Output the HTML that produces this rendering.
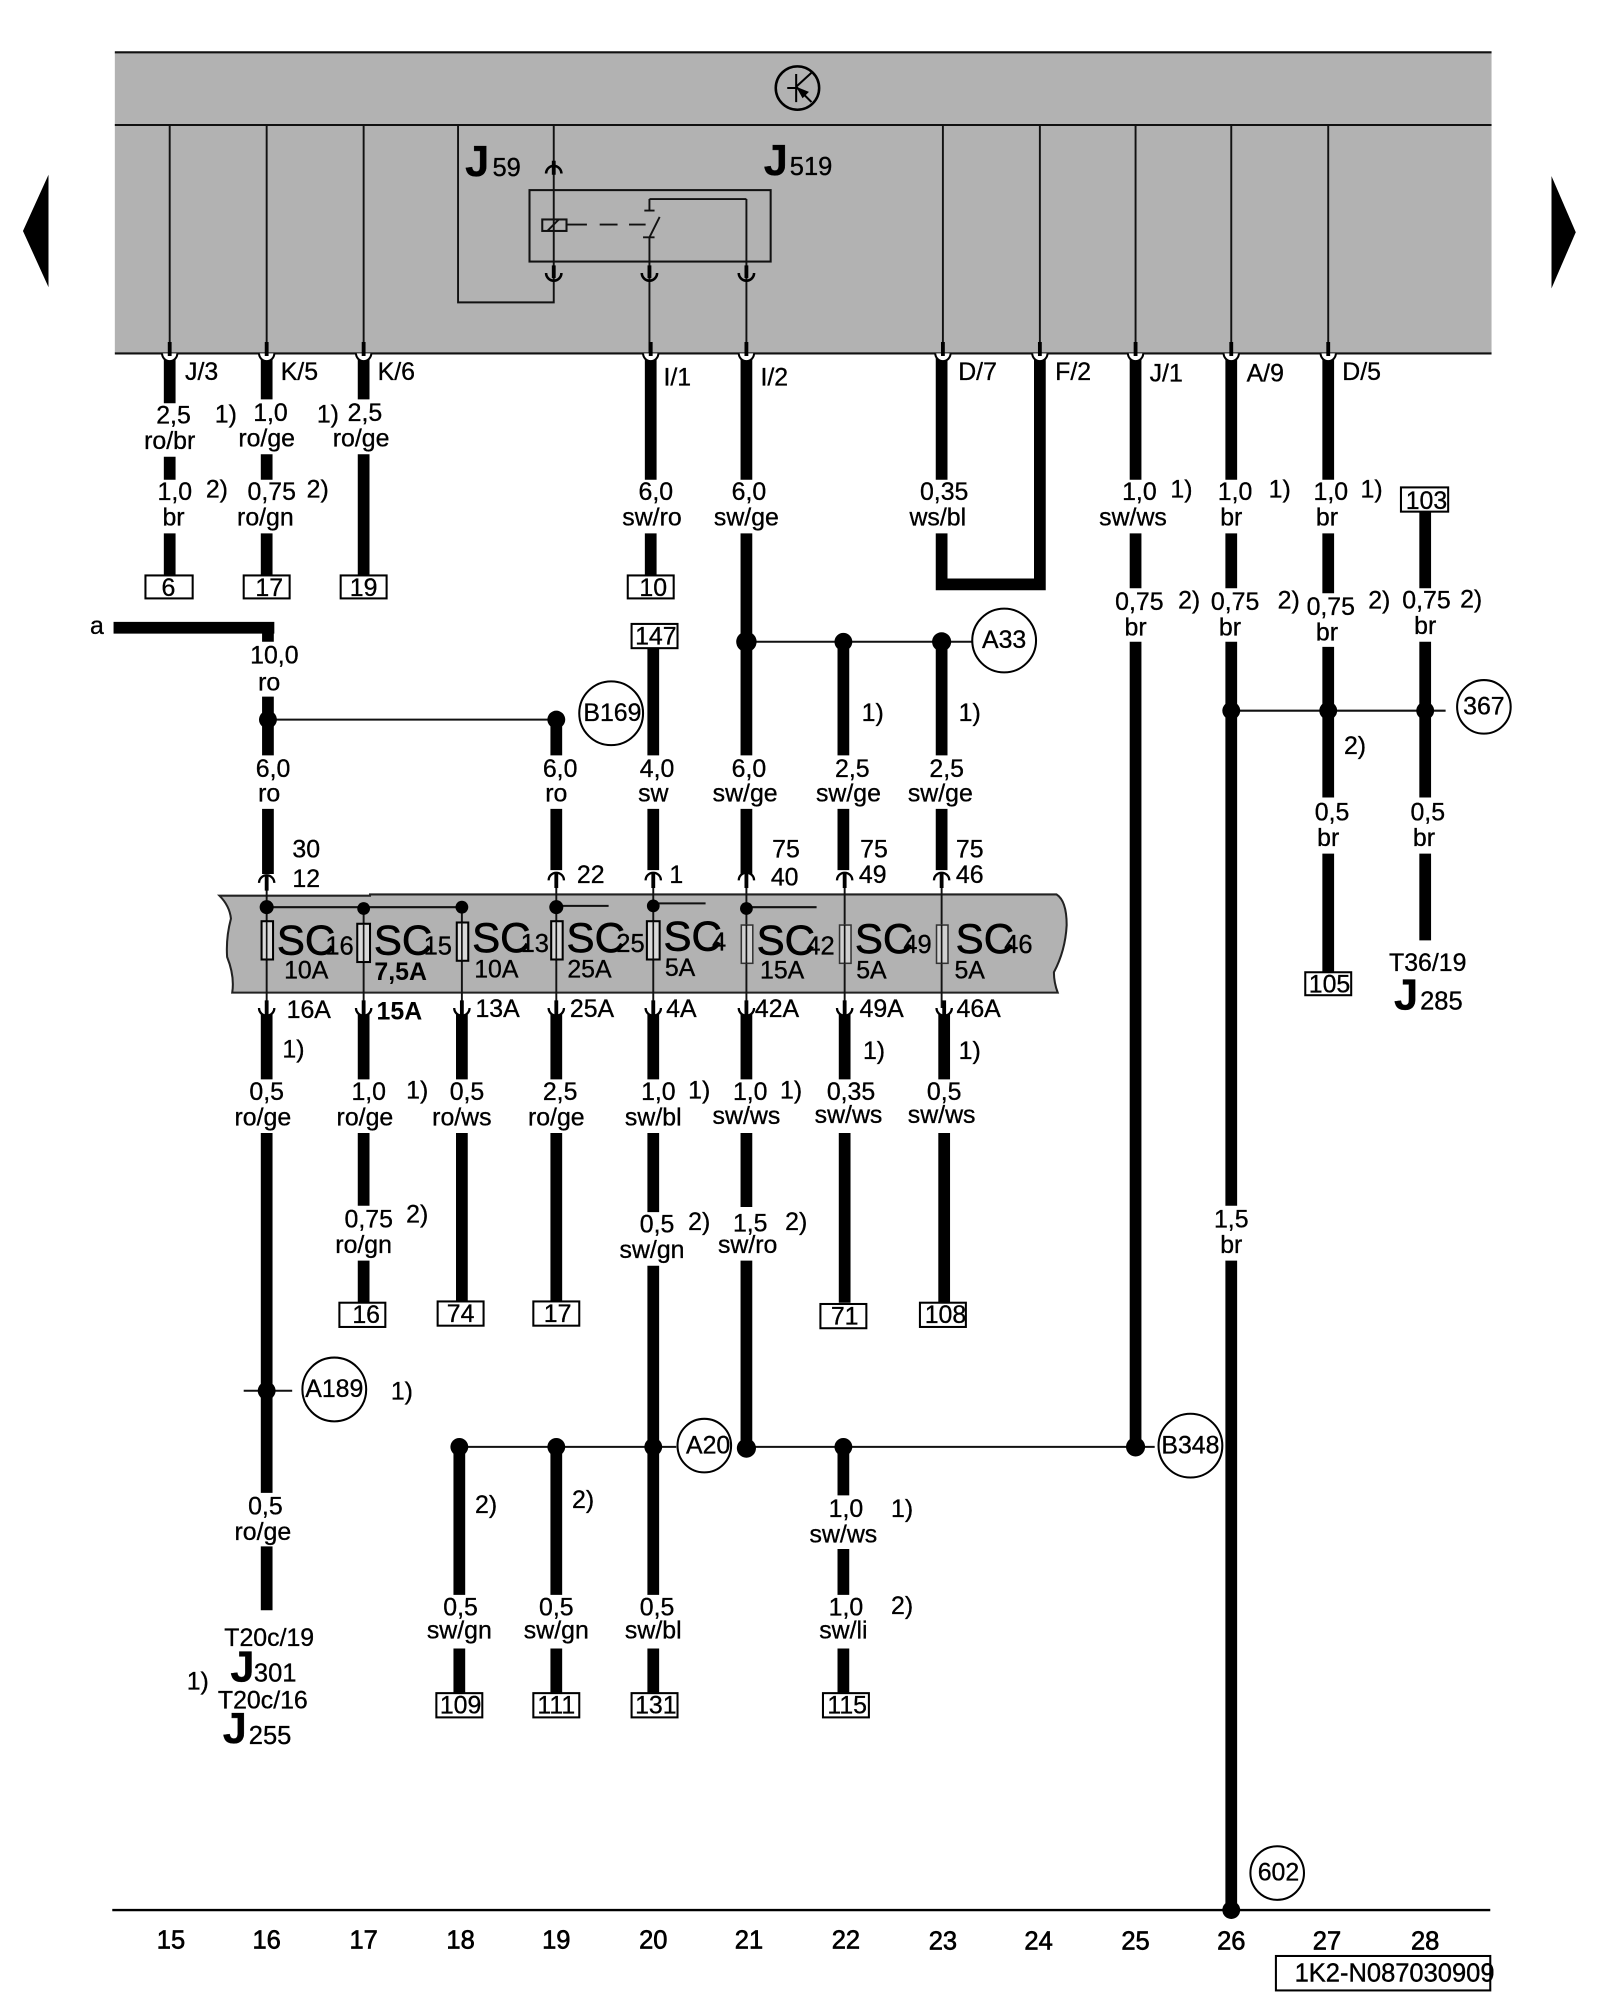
<!DOCTYPE html>
<html><head><meta charset="utf-8"><title>Diagram</title>
<style>
html,body{margin:0;padding:0;background:#fff;width:1600px;height:2000px;overflow:hidden}
svg{display:block}
text{font-family:"Liberation Sans",sans-serif;font-size:19.5px;fill:#000;text-anchor:middle;stroke:#000;stroke-width:.25}
.s{text-anchor:start}
.J{font-size:34px;font-weight:bold}
.n{font-size:20px;text-anchor:start}
.SC{font-size:33px;text-anchor:start;stroke-width:.5}
.sub{font-size:20px;text-anchor:start}
.bn{font-weight:bold;font-size:19.5px;stroke-width:0}
.num{font-size:20px;stroke-width:.5}
</style></head><body>
<svg width="1600" height="2000" viewBox="0 0 1254 1567.5" xmlns="http://www.w3.org/2000/svg">
<rect width="1254" height="1567.5" fill="#fff"/>
<!-- top band -->
<rect x="90" y="41" width="1079" height="236" fill="#b2b2b2"/>
<path d="M90 41H1169M90 98H1169M90 277H1169" stroke="#111" stroke-width="1.6" fill="none"/>
<!-- side arrows -->
<polygon points="38,137 18,181 38,225" fill="#000"/>
<polygon points="1216,138 1235,182 1216,226" fill="#000"/>
<!-- transistor symbol -->
<circle cx="625" cy="69" r="17" fill="none" stroke="#000" stroke-width="2"/>
<path d="M617 69H624M624 58V80M624 68L636 57M624 68L636 80" stroke="#000" stroke-width="1.6" fill="none"/>
<polygon points="624,68 634,72 629,77" fill="#000"/>
<!-- thin verticals in band -->
<path d="M133 98V277M209 98V277M285 98V277M739 98V277M815 98V277M890 98V277M965 98V277M1041 98V277M434 98V237H359V98M509 205V277M585 156V277M509 156H585M509 156V165" stroke="#111" stroke-width="1.5" fill="none"/>
<rect x="415" y="149" width="189" height="56" fill="none" stroke="#111" stroke-width="1.6"/>
<rect x="425" y="172" width="19" height="9" fill="none" stroke="#111" stroke-width="1.6"/>
<path d="M429 181L438 172M444 176H460M470 176H484M493 176H506" stroke="#111" stroke-width="1.5" fill="none"/>
<path d="M505 165H513M517 170L509 186M504 186H513M509 186V205" stroke="#111" stroke-width="1.5" fill="none"/>
<!-- connector arcs -->
<path d="M428 136A6 6 0 0 1 440 136M428 214A6 6 0 0 0 440 214M503 214A6 6 0 0 0 515 214M579 214A6 6 0 0 0 591 214" stroke="#000" stroke-width="2" fill="none"/>
<path d="M434 126V137M434 208V218M509 208V218M585 208V218" stroke="#000" stroke-width="3"/>
<!-- fuse band -->
<path d="M172 702H290V701H828Q836 706 836 725Q835 745 826 762Q826 770 829 778H182Q184 765 178 750Q177 735 181 720Q180 710 172 702Z" fill="#b2b2b2" stroke="#222" stroke-width="1.6"/>
<!-- thick wires -->
<path fill="none" stroke="#000" stroke-width="9.2" d="
M133 279V316M133 358V376M133 418V451
M209 279V313M209 356V376M209 418V451
M285 279V313M285 356V451
M510 279V376M510 418V451
M585 279V376M585 418V592M585 634V685
M738 279V376M738 418V458H815V279
M890 279V376M890 418V461M890 503V1134
M965 279V376M965 418V461M965 503V945M965 988V1497
M1041 279V376M1041 418V465M1041 507V625M1041 669V762
M1117 401V461M1117 503V625M1117 669V737
M210 503V492M89 492H215
M210 546V592M210 634V685
M436 564V592M436 634V682
M512 508V592M512 634V682
M661 503V592M661 634V682
M738 503V592M738 634V682
M209 795V846M209 888V1170M209 1212V1262
M285 795V846M285 888V945M285 988V1021
M362 795V846M362 888V1021
M436 795V846M436 888V1021
M512 795V846M512 888V950M512 992V1250M512 1292V1327
M585 795V846M585 888V946M585 988V1134
M662 795V846M662 888V1021
M740 795V846M740 888V1021
M360 1134V1250M360 1292V1327
M436 1134V1250M436 1292V1327
M661 1134V1172M661 1214V1250M661 1292V1327"/>
<!-- connector U shapes at band bottom -->
<g fill="#fff" stroke="#000" stroke-width="1.6">
<path d="M127 277A6 6 0 0 0 139 277"/><path d="M203 277A6 6 0 0 0 215 277"/><path d="M279 277A6 6 0 0 0 291 277"/>
<path d="M504 277A6 6 0 0 0 516 277"/><path d="M579 277A6 6 0 0 0 591 277"/><path d="M733 277A6 6 0 0 0 745 277"/>
<path d="M809 277A6 6 0 0 0 821 277"/><path d="M884 277A6 6 0 0 0 896 277"/><path d="M959 277A6 6 0 0 0 971 277"/><path d="M1035 277A6 6 0 0 0 1047 277"/>
</g>
<path d="M133 268V279M209 268V279M285 268V279M510 268V279M585 268V279M739 268V279M815 268V279M890 268V279M965 268V279M1041 268V279" stroke="#000" stroke-width="3"/>
<!-- fuse lines -->
<path d="M209 686V795M285 711V795M362 711V795M436 686V795M512 686V795M585 686V795M662 686V795M738 686V795" stroke="#111" stroke-width="1.5" fill="none"/>
<path d="M209 711H362M436 710H477M512 708H553M585 711H640" stroke="#111" stroke-width="1.6" fill="none"/>
<!-- arcs on top of fuse band and below -->
<g fill="#fff" stroke="#000" stroke-width="1.8">
<path d="M203 692A6 6 0 0 1 215 692"/><path d="M430 690A6 6 0 0 1 442 690"/><path d="M506 690A6 6 0 0 1 518 690"/><path d="M579 690A6 6 0 0 1 591 690"/><path d="M656 690A6 6 0 0 1 668 690"/><path d="M732 690A6 6 0 0 1 744 690"/>
<path d="M203 790A6 6 0 0 0 215 790"/><path d="M279 790A6 6 0 0 0 291 790"/><path d="M356 790A6 6 0 0 0 368 790"/><path d="M430 790A6 6 0 0 0 442 790"/><path d="M506 790A6 6 0 0 0 518 790"/><path d="M579 790A6 6 0 0 0 591 790"/><path d="M656 790A6 6 0 0 0 668 790"/><path d="M734 790A6 6 0 0 0 746 790"/>
</g>
<path d="M209 686V698M436 684V696M512 684V696M585 684V696M662 684V696M738 684V696M209 784V796M285 784V796M362 784V796M436 784V796M512 784V796M585 784V796M662 784V796M740 784V796" stroke="#000" stroke-width="3"/>
<!-- fuses -->
<g fill="#d8d8d8" stroke="#000" stroke-width="1.6">
<rect x="205" y="722" width="9" height="30"/><rect x="280" y="724" width="10" height="30"/><rect x="358" y="723" width="9" height="30"/><rect x="432" y="722" width="9" height="30"/><rect x="507" y="722" width="10" height="30"/>
</g>
<g fill="#d0d0d0" stroke="#333" stroke-width="1.2">
<rect x="581" y="725" width="9" height="30"/><rect x="658" y="725" width="9" height="30"/><rect x="734" y="725" width="9" height="30"/>
</g>
<path d="M209 722V752M285 724V754M362 723V753M436 722V752M512 722V752M585 725V755M662 725V755M738 725V755" stroke="#111" stroke-width="1.3"/>
<!-- thin junction lines -->
<path d="M210 564H436M585 503H762M965 557H1133M191 1090H229M360 1134H530M585 1134H905" stroke="#111" stroke-width="1.6" fill="none"/>
<path d="M88 1497H1168" stroke="#000" stroke-width="1.8"/>
<!-- dots -->
<g fill="#000">
<circle cx="210" cy="564" r="7"/><circle cx="436" cy="564" r="7"/>
<circle cx="585" cy="503" r="8"/><circle cx="661" cy="503" r="7"/><circle cx="738" cy="503" r="7.5"/>
<circle cx="965" cy="557" r="7"/><circle cx="1041" cy="557" r="7"/><circle cx="1117" cy="557" r="7"/>
<circle cx="209" cy="711" r="5.5"/><circle cx="285" cy="712" r="5"/><circle cx="362" cy="711" r="5"/><circle cx="436" cy="711" r="5.5"/><circle cx="512" cy="710" r="5"/><circle cx="585" cy="712" r="5"/>
<circle cx="209" cy="1090" r="7"/><circle cx="360" cy="1134" r="7"/><circle cx="436" cy="1134" r="7"/><circle cx="512" cy="1134" r="7"/>
<circle cx="585" cy="1135" r="7.5"/><circle cx="661" cy="1134" r="7"/><circle cx="890" cy="1134" r="7.5"/><circle cx="965" cy="1497" r="7"/>
</g>
<!-- circles -->
<g fill="#fff" stroke="#000" stroke-width="1.6">
<ellipse cx="479" cy="559" rx="25" ry="25"/><ellipse cx="787" cy="502" rx="25" ry="25"/><ellipse cx="1163" cy="554" rx="21" ry="21"/>
<ellipse cx="262" cy="1089" rx="25" ry="25"/><ellipse cx="552" cy="1133" rx="21" ry="21"/><ellipse cx="933" cy="1133" rx="25" ry="25"/><ellipse cx="1001" cy="1468" rx="21" ry="21"/>
</g>
<!-- boxes -->
<g fill="#fff" stroke="#000" stroke-width="1.6">
<rect x="114" y="451" width="37" height="18"/><rect x="191" y="451" width="36" height="18"/><rect x="267" y="451" width="36" height="18"/><rect x="492" y="451" width="36" height="18"/>
<rect x="495" y="489" width="36" height="19"/><rect x="1098" y="382" width="37" height="19"/><rect x="1023" y="762" width="36" height="18"/>
<rect x="266" y="1021" width="36" height="19"/><rect x="343" y="1020" width="36" height="19"/><rect x="418" y="1020" width="36" height="19"/><rect x="643" y="1022" width="36" height="19"/><rect x="721" y="1021" width="36" height="19"/>
<rect x="342" y="1327" width="36" height="19"/><rect x="418" y="1327" width="36" height="19"/><rect x="495" y="1327" width="36" height="19"/><rect x="645" y="1327" width="36" height="19"/>
<rect x="1000" y="1533" width="168" height="27"/>
</g>
<!-- box labels -->
<text x="132" y="467">6</text><text x="211" y="467">17</text><text x="285" y="467">19</text><text x="512" y="467">10</text><text x="514" y="505">147</text><text x="1118" y="399">103</text><text x="1042" y="778">105</text>
<text x="287" y="1037">16</text><text x="361" y="1036">74</text><text x="437" y="1036">17</text><text x="662" y="1038">71</text><text x="741" y="1037">108</text>
<text x="361" y="1343">109</text><text x="436" y="1343">111</text><text x="514" y="1343">131</text><text x="664" y="1343">115</text>
<text x="1093" y="1553" style="font-size:20px;stroke-width:.3">1K2-N087030909</text>
<!-- circle labels -->
<text x="480" y="565">B169</text><text x="787" y="508">A33</text><text x="1163" y="560">367</text><text x="262" y="1095">A189</text><text x="555" y="1139">A20</text><text x="933" y="1139">B348</text><text x="1002" y="1474">602</text>
<text x="76" y="497">a</text>
<!-- J labels -->
<text x="374" y="138" class="J">J</text><text x="386" y="138" class="n">59</text>
<text x="608" y="137" class="J">J</text><text x="619" y="137" class="n">519</text>
<text x="1102" y="791" class="J">J</text><text x="1113" y="791" class="n">285</text>
<text x="190" y="1318" class="J">J</text><text x="199" y="1318" class="n">301</text>
<text x="184" y="1366" class="J">J</text><text x="195" y="1367" class="n">255</text>
<!-- pin labels -->
<g>
<text class="s" x="145" y="298">J/3</text><text class="s" x="220" y="298">K/5</text><text class="s" x="296" y="298">K/6</text><text class="s" x="520" y="302">I/1</text><text class="s" x="596" y="302">I/2</text>
<text class="s" x="751" y="298">D/7</text><text class="s" x="827" y="298">F/2</text><text class="s" x="901" y="299">J/1</text><text class="s" x="977" y="299">A/9</text><text class="s" x="1052" y="298">D/5</text>
</g>
<!-- wire labels -->
<text x="136" y="332">2,5</text><text x="133" y="352">ro/br</text><text x="177" y="331">1)</text>
<text x="212" y="330">1,0</text><text x="209" y="350">ro/ge</text><text x="257" y="331">1)</text>
<text x="286" y="330">2,5</text><text x="283" y="350">ro/ge</text>
<text x="137" y="392">1,0</text><text x="136" y="412">br</text><text x="170" y="390">2)</text>
<text x="213" y="392">0,75</text><text x="208" y="412">ro/gn</text><text x="249" y="390">2)</text>
<text x="514" y="392">6,0</text><text x="511" y="412">sw/ro</text><text x="587" y="392">6,0</text><text x="585" y="412">sw/ge</text>
<text x="740" y="392">0,35</text><text x="735" y="412">ws/bl</text>
<text x="893" y="392">1,0</text><text x="888" y="412">sw/ws</text><text x="926" y="390">1)</text>
<text x="968" y="392">1,0</text><text x="965" y="412">br</text><text x="1003" y="390">1)</text>
<text x="1043" y="392">1,0</text><text x="1040" y="412">br</text><text x="1075" y="390">1)</text>
<text x="893" y="478">0,75</text><text x="890" y="498">br</text><text x="932" y="477">2)</text>
<text x="968" y="478">0,75</text><text x="964" y="498">br</text><text x="1010" y="477">2)</text>
<text x="1043" y="482">0,75</text><text x="1040" y="502">br</text><text x="1081" y="477">2)</text>
<text x="1118" y="477">0,75</text><text x="1117" y="497">br</text><text x="1153" y="476">2)</text>
<text x="215" y="520">10,0</text><text x="211" y="541">ro</text>
<text x="214" y="609">6,0</text><text x="211" y="628">ro</text><text x="439" y="609">6,0</text><text x="436" y="628">ro</text>
<text x="515" y="609">4,0</text><text x="512" y="628">sw</text><text x="587" y="609">6,0</text><text x="584" y="628">sw/ge</text>
<text x="668" y="609">2,5</text><text x="665" y="628">sw/ge</text><text x="742" y="609">2,5</text><text x="737" y="628">sw/ge</text>
<text x="684" y="565">1)</text><text x="760" y="565">1)</text><text x="1062" y="591">2)</text>
<text x="1044" y="643">0,5</text><text x="1041" y="663">br</text><text x="1119" y="643">0,5</text><text x="1116" y="663">br</text>
<text x="1119" y="761">T36/19</text>
<text x="240" y="672">30</text><text x="240" y="695">12</text><text x="463" y="692">22</text><text x="530" y="692">1</text>
<text x="616" y="672">75</text><text x="615" y="694">40</text><text x="685" y="672">75</text><text x="684" y="692">49</text><text x="760" y="672">75</text><text x="760" y="692">46</text>
<!-- SC -->
<text class="SC" x="217" y="748">SC</text><text class="sub" x="255" y="748">16</text>
<text class="SC" x="293" y="748">SC</text><text class="sub" x="332" y="748">15</text>
<text class="SC" x="370" y="746">SC</text><text class="sub" x="408" y="746">13</text>
<text class="SC" x="444" y="746">SC</text><text class="sub" x="483" y="746">25</text>
<text class="SC" x="520" y="745">SC</text><text class="sub" x="558" y="745">4</text>
<text class="SC" x="593" y="748">SC</text><text class="sub" x="632" y="748">42</text>
<text class="SC" x="670" y="747">SC</text><text class="sub" x="708" y="747">49</text>
<text class="SC" x="749" y="747">SC</text><text class="sub" x="787" y="747">46</text>
<text x="240" y="767">10A</text><text x="314" y="768" class="bn">7,5A</text><text x="389" y="766">10A</text><text x="462" y="766">25A</text><text x="533" y="765">5A</text><text x="613" y="767">15A</text><text x="683" y="767">5A</text><text x="760" y="767">5A</text>
<text x="242" y="798">16A</text><text x="313" y="799" class="bn">15A</text><text x="390" y="797">13A</text><text x="464" y="797">25A</text><text x="534" y="797">4A</text><text x="609" y="797">42A</text><text x="691" y="797">49A</text><text x="767" y="797">46A</text>
<text x="230" y="829">1)</text><text x="685" y="830">1)</text><text x="760" y="830">1)</text>
<text x="209" y="862">0,5</text><text x="206" y="882">ro/ge</text>
<text x="289" y="862">1,0</text><text x="286" y="882">ro/ge</text><text x="327" y="861">1)</text>
<text x="366" y="862">0,5</text><text x="362" y="882">ro/ws</text>
<text x="439" y="862">2,5</text><text x="436" y="882">ro/ge</text>
<text x="516" y="862">1,0</text><text x="512" y="882">sw/bl</text><text x="548" y="861">1)</text>
<text x="588" y="862">1,0</text><text x="585" y="881">sw/ws</text><text x="620" y="861">1)</text>
<text x="667" y="862">0,35</text><text x="665" y="880">sw/ws</text>
<text x="740" y="862">0,5</text><text x="738" y="880">sw/ws</text>
<text x="289" y="962">0,75</text><text x="285" y="982">ro/gn</text><text x="327" y="958">2)</text>
<text x="515" y="966">0,5</text><text x="511" y="986">sw/gn</text><text x="548" y="964">2)</text>
<text x="588" y="965">1,5</text><text x="586" y="982">sw/ro</text><text x="624" y="964">2)</text>
<text x="965" y="962">1,5</text><text x="965" y="982">br</text>
<text x="315" y="1097">1)</text>
<text x="208" y="1187">0,5</text><text x="206" y="1207">ro/ge</text>
<text x="381" y="1186">2)</text><text x="457" y="1182">2)</text>
<text x="663" y="1189">1,0</text><text x="661" y="1209">sw/ws</text><text x="707" y="1189">1)</text>
<text x="663" y="1266">1,0</text><text x="661" y="1284">sw/li</text><text x="707" y="1265">2)</text>
<text x="361" y="1266">0,5</text><text x="360" y="1284">sw/gn</text>
<text x="436" y="1266">0,5</text><text x="436" y="1284">sw/gn</text>
<text x="515" y="1266">0,5</text><text x="512" y="1284">sw/bl</text>
<text x="211" y="1290">T20c/19</text><text x="155" y="1324">1)</text><text x="206" y="1339">T20c/16</text>
<!-- bottom numbers -->
<text x="134" y="1527" class="num">15</text><text x="209" y="1527" class="num">16</text><text x="285" y="1527" class="num">17</text><text x="361" y="1527" class="num">18</text><text x="436" y="1527" class="num">19</text><text x="512" y="1527" class="num">20</text><text x="587" y="1527" class="num">21</text><text x="663" y="1527" class="num">22</text><text x="739" y="1528" class="num">23</text><text x="814" y="1528" class="num">24</text><text x="890" y="1528" class="num">25</text><text x="965" y="1528" class="num">26</text><text x="1040" y="1528" class="num">27</text><text x="1117" y="1528" class="num">28</text>
</svg>
</body></html>
